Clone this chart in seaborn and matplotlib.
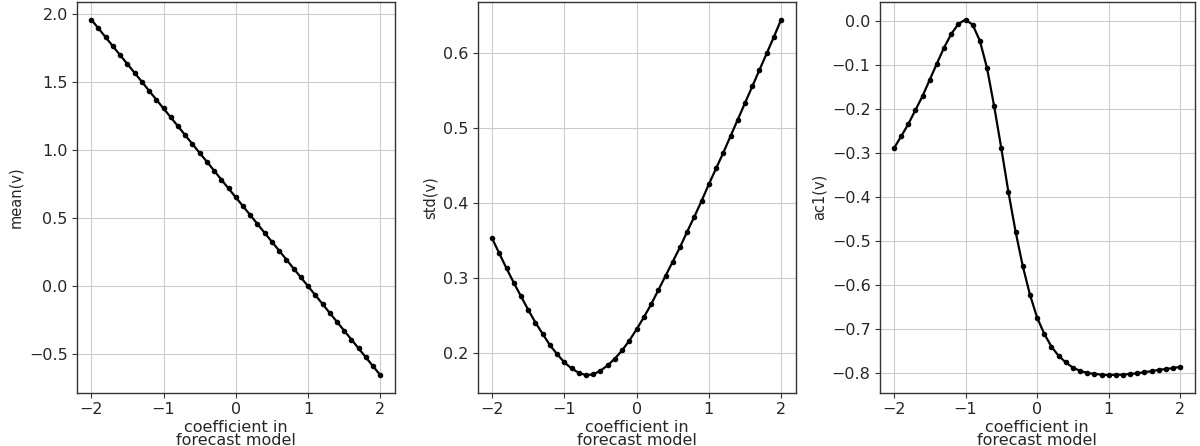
import numpy as np
import pandas as pd
import matplotlib
matplotlib.use("Agg")
import matplotlib.pyplot as plt
import seaborn as sns

# coefficient values on the x axis (-2 .. 2 in steps of 0.1)
coef = [-2.0, -1.9, -1.8, -1.7, -1.6, -1.5, -1.4, -1.3, -1.2, -1.1,
        -1.0, -0.9, -0.8, -0.7, -0.6, -0.5, -0.4, -0.3, -0.2, -0.1,
        0.0, 0.1, 0.2, 0.3, 0.4, 0.5, 0.6, 0.7, 0.8, 0.9,
        1.0, 1.1, 1.2, 1.3, 1.4, 1.5, 1.6, 1.7, 1.8, 1.9, 2.0]

mean_v = [1.956, 1.891, 1.826, 1.760, 1.695, 1.630, 1.565, 1.500, 1.434, 1.369,
          1.304, 1.239, 1.174, 1.108, 1.043, 0.978, 0.913, 0.848, 0.782, 0.717,
          0.652, 0.587, 0.522, 0.456, 0.391, 0.326, 0.261, 0.196, 0.130, 0.065,
          0.000, -0.065, -0.130, -0.196, -0.261, -0.326, -0.391, -0.456, -0.522, -0.587,
          -0.652]

std_v = [0.353, 0.333, 0.313, 0.294, 0.276, 0.258, 0.241, 0.226, 0.211, 0.199,
         0.188, 0.180, 0.174, 0.171, 0.172, 0.177, 0.184, 0.193, 0.204, 0.217,
         0.232, 0.248, 0.265, 0.284, 0.303, 0.322, 0.341, 0.362, 0.382, 0.403,
         0.425, 0.446, 0.467, 0.489, 0.511, 0.533, 0.555, 0.577, 0.599, 0.621,
         0.644]

ac1_v = [-0.289, -0.262, -0.234, -0.202, -0.170, -0.133, -0.096, -0.060, -0.029, -0.006,
         0.004, -0.008, -0.044, -0.106, -0.193, -0.289, -0.389, -0.479, -0.557, -0.622,
         -0.674, -0.711, -0.740, -0.761, -0.776, -0.788, -0.795, -0.800, -0.802, -0.804,
         -0.805, -0.804, -0.804, -0.802, -0.801, -0.798, -0.796, -0.793, -0.791, -0.789,
         -0.786]

df = pd.DataFrame({"coef": coef, "mean(v)": mean_v, "std(v)": std_v, "ac1(v)": ac1_v})

sns.set_style("whitegrid", {"axes.edgecolor": "#333333", "grid.color": "#cccccc",
                            "xtick.bottom": True, "ytick.left": True})
plt.rcParams["font.family"] = ["DejaVu Sans"]

fig = plt.figure(figsize=(12, 4.46), dpi=100)
positions = [[0.064, 0.119, 0.265, 0.877],
             [0.398, 0.119, 0.265, 0.877],
             [0.733, 0.119, 0.2625, 0.877]]

for pos, col in zip(positions, ["mean(v)", "std(v)", "ac1(v)"]):
    ax = fig.add_axes(pos)
    sns.lineplot(data=df, x="coef", y=col, ax=ax, color="black", linewidth=1.6,
                 marker="o", markersize=4, markeredgewidth=0)
    ax.set_xlabel("coefficient in\nforecast model", fontsize=11.5, labelpad=2, linespacing=0.85)
    ax.set_ylabel(col, fontsize=10.5)
    ax.set_xticks([-2, -1, 0, 1, 2])
    ax.tick_params(labelsize=11.5, length=3.5, pad=3, color="#333333")
    for s in ax.spines.values():
        s.set_linewidth(1.0)

fig.savefig("out.png", dpi=100)
